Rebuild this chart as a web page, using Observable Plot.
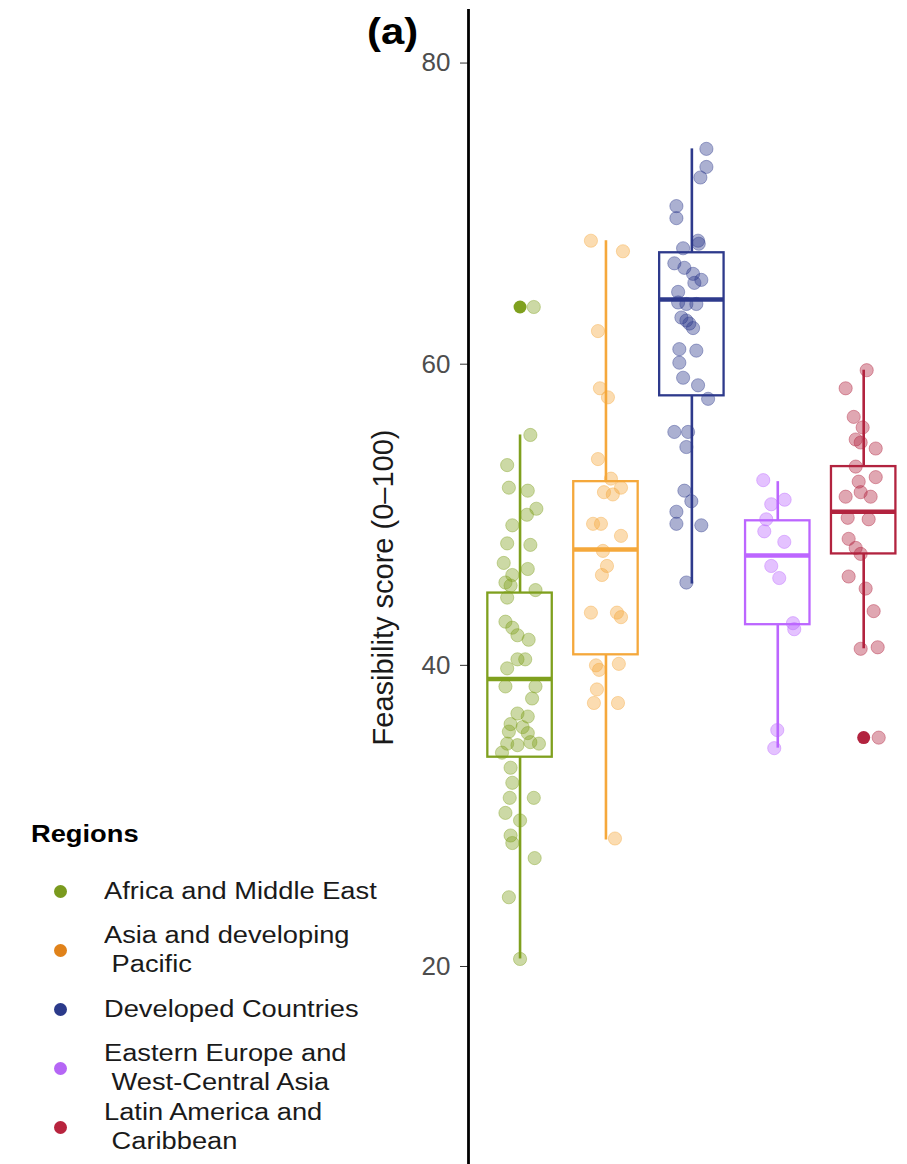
<!DOCTYPE html>
<html>
<head>
<meta charset="utf-8">
<script src="https://cdn.jsdelivr.net/npm/d3@7"></script>
<script src="https://cdn.jsdelivr.net/npm/@observablehq/plot@0.6"></script>
<style>
  html, body { margin: 0; padding: 0; background: #fff; }
  body { font-family: "Liberation Sans", Arial, Helvetica, sans-serif; }
  #wrap { position: relative; width: 907px; height: 1164px; overflow: hidden; background: #fff; }
  #chart { position: absolute; left: 0; top: 0; }
  .tag { position: absolute; left: 367px; top: 14px; font-size: 36px; line-height: 36px; font-weight: bold; color: #000;
         transform: scaleX(1.16); transform-origin: left top; }
  .legend-title { position: absolute; left: 31px; top: 820px; font-size: 23.5px; line-height: 29px; font-weight: bold; color: #000;
         transform: scaleX(1.16); transform-origin: left center; }
  .legend-row { position: absolute; left: 0; width: 420px; height: 59px; display: flex; align-items: center; }
  .legend-dot { width: 13px; height: 13px; border-radius: 50%; margin-left: 53.5px; flex: none; }
  .legend-text { margin-left: 37.5px; font-size: 23.5px; line-height: 29px; color: #1a1a1a; white-space: pre;
         transform: scaleX(1.16); transform-origin: left center; }
</style>
</head>
<body>
<div id="wrap">
  <div id="chart"></div>
  <div class="tag">(a)</div>
  <div id="legend"></div>
</div>
<script>
// ---- categories & styling data ----
const regions = [
  "Africa and Middle East",
  "Asia and developing Pacific",
  "Developed Countries",
  "Eastern Europe and West-Central Asia",
  "Latin America and Caribbean"
];
const legendLabels = [
  "Africa and Middle East",
  "Asia and developing\n Pacific",
  "Developed Countries",
  "Eastern Europe and\n West-Central Asia",
  "Latin America and\n Caribbean"
];
const regionColors = ["#7FA01E", "#F5A83B", "#2E3A8C", "#BC66FF", "#B2233F"];
const legendDotColors = ["#7A9A1E", "#E0821A", "#2B3A8A", "#B566F5", "#B8243E"];
const yTicks = [20, 40, 60, 80];

// ---- box statistics ----
const boxLow    = [20.5, 28.4, 45.4, 34.5, 41.1];
const boxQ1     = [33.9, 40.7, 57.9, 42.7, 47.4];
const boxMedian = [39.1, 47.7, 64.3, 47.3, 50.2];
const boxQ3     = [44.8, 52.2, 67.4, 49.6, 53.2];
const boxHigh   = [55.3, 68.2, 74.3, 52.2, 59.6];
const outlierRegion = [0, 4];
const outlierValue  = [63.8, 35.2];

// ---- jittered country scores (value, horizontal jitter in category units) ----
const africaScores = [63.8,55.3,53.3,51.8,51.6,50.4,50.0,49.3,48.1,48.0,46.8,46.4,46.0,45.5,45.3,45.0,44.5,42.9,42.5,42.0,41.7,40.4,40.4,39.8,38.6,38.6,37.8,36.8,36.6,36.1,35.9,35.6,35.5,34.9,34.8,34.7,34.8,34.2,33.2,32.2,31.2,31.2,30.2,29.7,28.7,28.2,27.2,24.6,20.5];
const africaJitter = [0.16,0.12,-0.15,-0.13,0.09,0.19,0.08,-0.09,-0.15,0.12,-0.19,0.09,-0.09,-0.17,-0.11,0.18,-0.15,-0.17,-0.09,-0.03,0.10,-0.03,0.06,-0.15,-0.17,0.18,0.14,-0.03,0.09,-0.11,0.03,-0.13,0.09,0.12,-0.15,-0.03,0.22,-0.21,-0.11,-0.09,-0.12,0.16,-0.17,0.0,-0.11,-0.09,0.17,-0.13,0.0];
const asiaScores = [68.2,67.5,62.2,58.4,57.8,53.7,52.4,51.8,51.5,51.35,49.4,49.4,48.6,47.6,46.6,46.0,43.5,43.5,43.2,40.0,39.7,40.1,38.4,37.5,37.5,28.5];
const asiaJitter = [-0.175,0.198,-0.093,-0.07,0.023,-0.093,0.058,0.175,-0.023,0.08,-0.15,-0.058,0.175,-0.035,0.012,-0.047,-0.175,0.128,0.175,-0.116,-0.08,0.15,-0.105,-0.14,0.14,0.105];
const developedScores = [74.3,73.1,72.4,70.5,69.7,68.2,68.0,67.7,66.7,66.4,66.0,65.6,65.4,64.8,64.1,64.0,64.0,63.1,62.9,62.7,62.4,61.0,60.9,60.1,59.1,58.6,57.7,55.5,55.5,54.5,51.6,50.9,50.2,49.4,49.3,45.5];
const developedJitter = [0.169,0.169,0.099,-0.18,-0.18,0.072,0.08,-0.102,-0.204,-0.087,0.014,0.11,0.029,-0.16,-0.16,-0.064,0.052,-0.122,-0.064,-0.029,0.014,-0.146,0.052,-0.146,-0.102,0.072,0.189,-0.204,-0.044,-0.064,-0.087,-0.006,-0.18,-0.18,0.11,-0.064];
const easternScores = [52.3,51.0,50.7,49.7,48.9,48.2,46.6,45.8,42.8,42.4,35.7,34.5];
const easternJitter = [-0.169,0.08,-0.076,-0.134,-0.157,0.076,-0.076,0.017,0.177,0.192,-0.006,-0.041];
const latinScores = [59.6,58.4,56.5,55.8,55.0,54.8,54.4,53.2,52.5,52.2,51.5,51.2,51.2,49.8,49.7,48.4,47.8,47.4,45.9,45.1,43.6,41.1,41.2,35.2];
const latinJitter = [0.035,-0.21,-0.116,-0.012,-0.093,-0.035,0.14,-0.093,0.14,-0.058,-0.035,0.081,-0.21,-0.186,0.058,-0.175,-0.093,-0.035,-0.175,0.023,0.116,-0.035,0.163,0.175];

// ---- build tables ----
const boxes = regions.map((region, i) => ({
  region, pos: i + 1,
  lo: boxLow[i], q1: boxQ1[i], med: boxMedian[i], q3: boxQ3[i], hi: boxHigh[i]
}));
const outliers = outlierRegion.map((ri, k) => ({ region: regions[ri], pos: ri + 1, value: outlierValue[k] }));
const groups = [
  [africaScores, africaJitter],
  [asiaScores, asiaJitter],
  [developedScores, developedJitter],
  [easternScores, easternJitter],
  [latinScores, latinJitter]
];
const points = [];
groups.forEach(([vals, jit], i) => {
  const n = Math.min(vals.length, jit.length);
  for (let k = 0; k < n; k++) points.push({ region: regions[i], pos: i + 1, value: vals[k], jitter: jit[k] });
});
const halfBox = 0.375;

const chart = Plot.plot({
  width: 907,
  height: 1164,
  marginLeft: 468,
  marginRight: 0,
  marginTop: 10,
  marginBottom: 0,
  style: { fontFamily: "Liberation Sans, Arial, Helvetica, sans-serif", background: "white", overflow: "visible" },
  x: { type: "linear", domain: [0.4, 5.51], axis: null },
  y: { domain: [6.85, 83.49] },
  color: { domain: regions, range: regionColors },
  marks: [
    Plot.ruleX(boxes, { x: "pos", y1: "lo", y2: "q1", stroke: "region", strokeWidth: 2.6 }),
    Plot.ruleX(boxes, { x: "pos", y1: "q3", y2: "hi", stroke: "region", strokeWidth: 2.6 }),
    Plot.rect(boxes, { x1: d => d.pos - halfBox, x2: d => d.pos + halfBox, y1: "q1", y2: "q3",
                       fill: "white", stroke: "region", strokeWidth: 2.3 }),
    Plot.ruleY(boxes, { y: "med", x1: d => d.pos - halfBox, x2: d => d.pos + halfBox, stroke: "region", strokeWidth: 4.5 }),
    Plot.dot(outliers, { x: "pos", y: "value", fill: "region", r: 6.5 }),
    Plot.dot(points, { x: d => d.pos + d.jitter, y: "value", fill: "region", fillOpacity: 0.4,
                       stroke: "region", strokeOpacity: 0.4, strokeWidth: 1, r: 6.6 }),
    Plot.axisY({ ticks: yTicks, tickSize: 8, tickPadding: 10, fontSize: 26, color: "#4d4d4d",
                 label: "Feasibility score (0–100)", labelAnchor: "center", labelArrow: "none", labelOffset: 96 }),
    Plot.frame({ anchor: "left", stroke: "black", strokeWidth: 2.8 })
  ]
});
document.getElementById("chart").appendChild(chart);

// style the y-axis title like the reference
d3.select(chart).selectAll('[aria-label="y-axis label"] text')
  .attr("font-size", 29).attr("fill", "#1a1a1a");
d3.select(chart).selectAll('[aria-label="y-axis tick"] path, [aria-label="y-axis tick"] line')
  .attr("stroke", "#333");

// ---- legend ----
const legend = document.getElementById("legend");
const title = document.createElement("div");
title.className = "legend-title";
title.textContent = "Regions";
legend.appendChild(title);
regions.forEach((r, i) => {
  const row = document.createElement("div");
  row.className = "legend-row";
  row.style.top = (861.5 + 59 * i) + "px";
  const dot = document.createElement("div");
  dot.className = "legend-dot";
  dot.style.background = legendDotColors[i];
  const txt = document.createElement("div");
  txt.className = "legend-text";
  txt.textContent = legendLabels[i];
  row.appendChild(dot);
  row.appendChild(txt);
  legend.appendChild(row);
});
</script>
</body>
</html>
